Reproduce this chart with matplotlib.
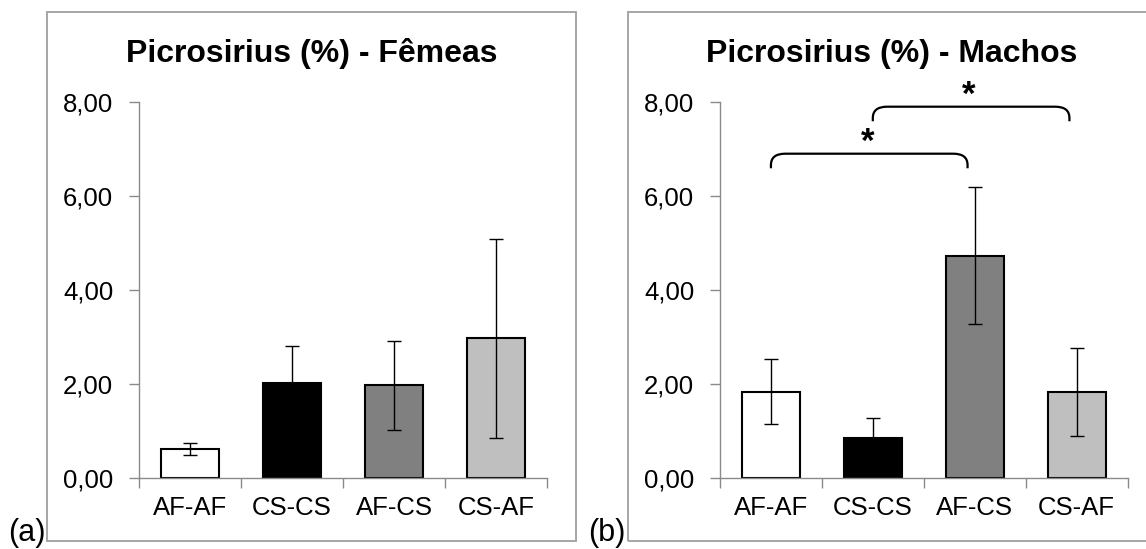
import matplotlib
matplotlib.use("Agg")
import matplotlib.pyplot as plt
from matplotlib.patches import Rectangle, PathPatch
from matplotlib.path import Path
from matplotlib.ticker import FuncFormatter

plt.rcParams['font.family'] = ['Liberation Sans', 'DejaVu Sans']

categories = ["AF-AF", "CS-CS", "AF-CS", "CS-AF"]
bar_colors = ["#ffffff", "#000000", "#808080", "#bfbfbf"]

femeas_means = [0.61, 2.02, 1.97, 2.97]
femeas_err = [0.125, 0.79, 0.955, 2.125]

machos_means = [1.84, 0.86, 4.73, 1.83]
machos_err = [0.695, 0.41, 1.46, 0.935]

titles = ["Picrosirius (%) - Fêmeas", "Picrosirius (%) - Machos"]
panel_labels = ["(a)", "(b)"]
yticks = [0, 2, 4, 6, 8]

# significance brackets for the "Machos" panel: (from, to, height)
machos_brackets = [(0, 2, 6.9), (1, 3, 7.9)]

W, H = 1146, 549
fig = plt.figure(figsize=(W / 100, H / 100), dpi=100)

GRAY = "#8a8a8a"
FRAME = "#a6a6a6"


def fx(px):
    return px / W


def fy(py):
    return 1 - py / H


# outer frames
fig.patches.append(Rectangle((fx(47), fy(541)), fx(576) - fx(47), fy(12) - fy(541),
                             transform=fig.transFigure, fill=False, edgecolor=FRAME, lw=1.4))
fig.patches.append(Rectangle((fx(628), fy(541)), fx(1160) - fx(628), fy(12) - fy(541),
                             transform=fig.transFigure, fill=False, edgecolor=FRAME, lw=1.4))

axes_specs = [(139, 547), (720, 1127.5)]
title_centers = [311.5, 892]
label_x = [26.5, 607]
datasets = [(femeas_means, femeas_err), (machos_means, machos_err)]

for k in range(2):
    x0, x1 = axes_specs[k]
    ax = fig.add_axes([fx(x0), fy(478), fx(x1) - fx(x0), fy(102) - fy(478)])
    means, errs = datasets[k]
    xs = list(range(len(categories)))
    ax.bar(xs, means, width=0.57, color=bar_colors, edgecolor="black", linewidth=1.5, zorder=2)
    ax.errorbar(xs, means, yerr=errs, fmt="none", ecolor="black", elinewidth=1.0,
                capsize=5, capthick=1.0, zorder=3)
    ax.set_xlim(-0.5, len(categories) - 0.5)
    ax.set_ylim(0, 8)
    ax.set_yticks(yticks)
    ax.yaxis.set_major_formatter(FuncFormatter(lambda v, p: f"{v:.2f}".replace(".", ",")))
    ax.set_xticks(xs)
    ax.set_xticklabels(categories)
    ax.set_xticks([i - 0.5 for i in range(len(categories) + 1)], minor=True)
    ax.tick_params(axis="x", which="major", length=0, pad=13, labelsize=18.5)
    ax.tick_params(axis="x", which="minor", length=7, width=1, color=GRAY, direction="out")
    ax.tick_params(axis="y", length=7, width=1, color=GRAY, pad=11.5, labelsize=18.5)
    for s in ["top", "right"]:
        ax.spines[s].set_visible(False)
    for s in ["left", "bottom"]:
        ax.spines[s].set_color(GRAY)
        ax.spines[s].set_linewidth(1.0)
    ax.patch.set_alpha(0)

    fig.text(fx(title_centers[k]), fy(62), titles[k], ha="center", va="baseline",
             fontsize=23, fontweight="bold")
    fig.text(fx(label_x[k]), fy(540.5), panel_labels[k], ha="center", va="baseline", fontsize=22)

    if k == 1:
        for (i, j, h) in machos_brackets:
            xa, xb = i, j - 0.07
            drop, rx, ry = 0.31, 0.14, 0.24
            verts = [(xa, h - drop), (xa, h - ry), (xa, h), (xa + rx, h),
                     (xb - rx, h), (xb, h), (xb, h - ry), (xb, h - drop)]
            codes = [Path.MOVETO, Path.LINETO, Path.CURVE3, Path.CURVE3,
                     Path.LINETO, Path.CURVE3, Path.CURVE3, Path.LINETO]
            ax.add_patch(PathPatch(Path(verts, codes), fill=False, edgecolor="black",
                                   lw=1.6, clip_on=False, zorder=4))
            ax.text((xa + xb) / 2 - 0.02, h + 0.24, "*", ha="center", va="center",
                    fontsize=25, fontweight="bold", clip_on=False)

fig.savefig("out.png", dpi=100)
